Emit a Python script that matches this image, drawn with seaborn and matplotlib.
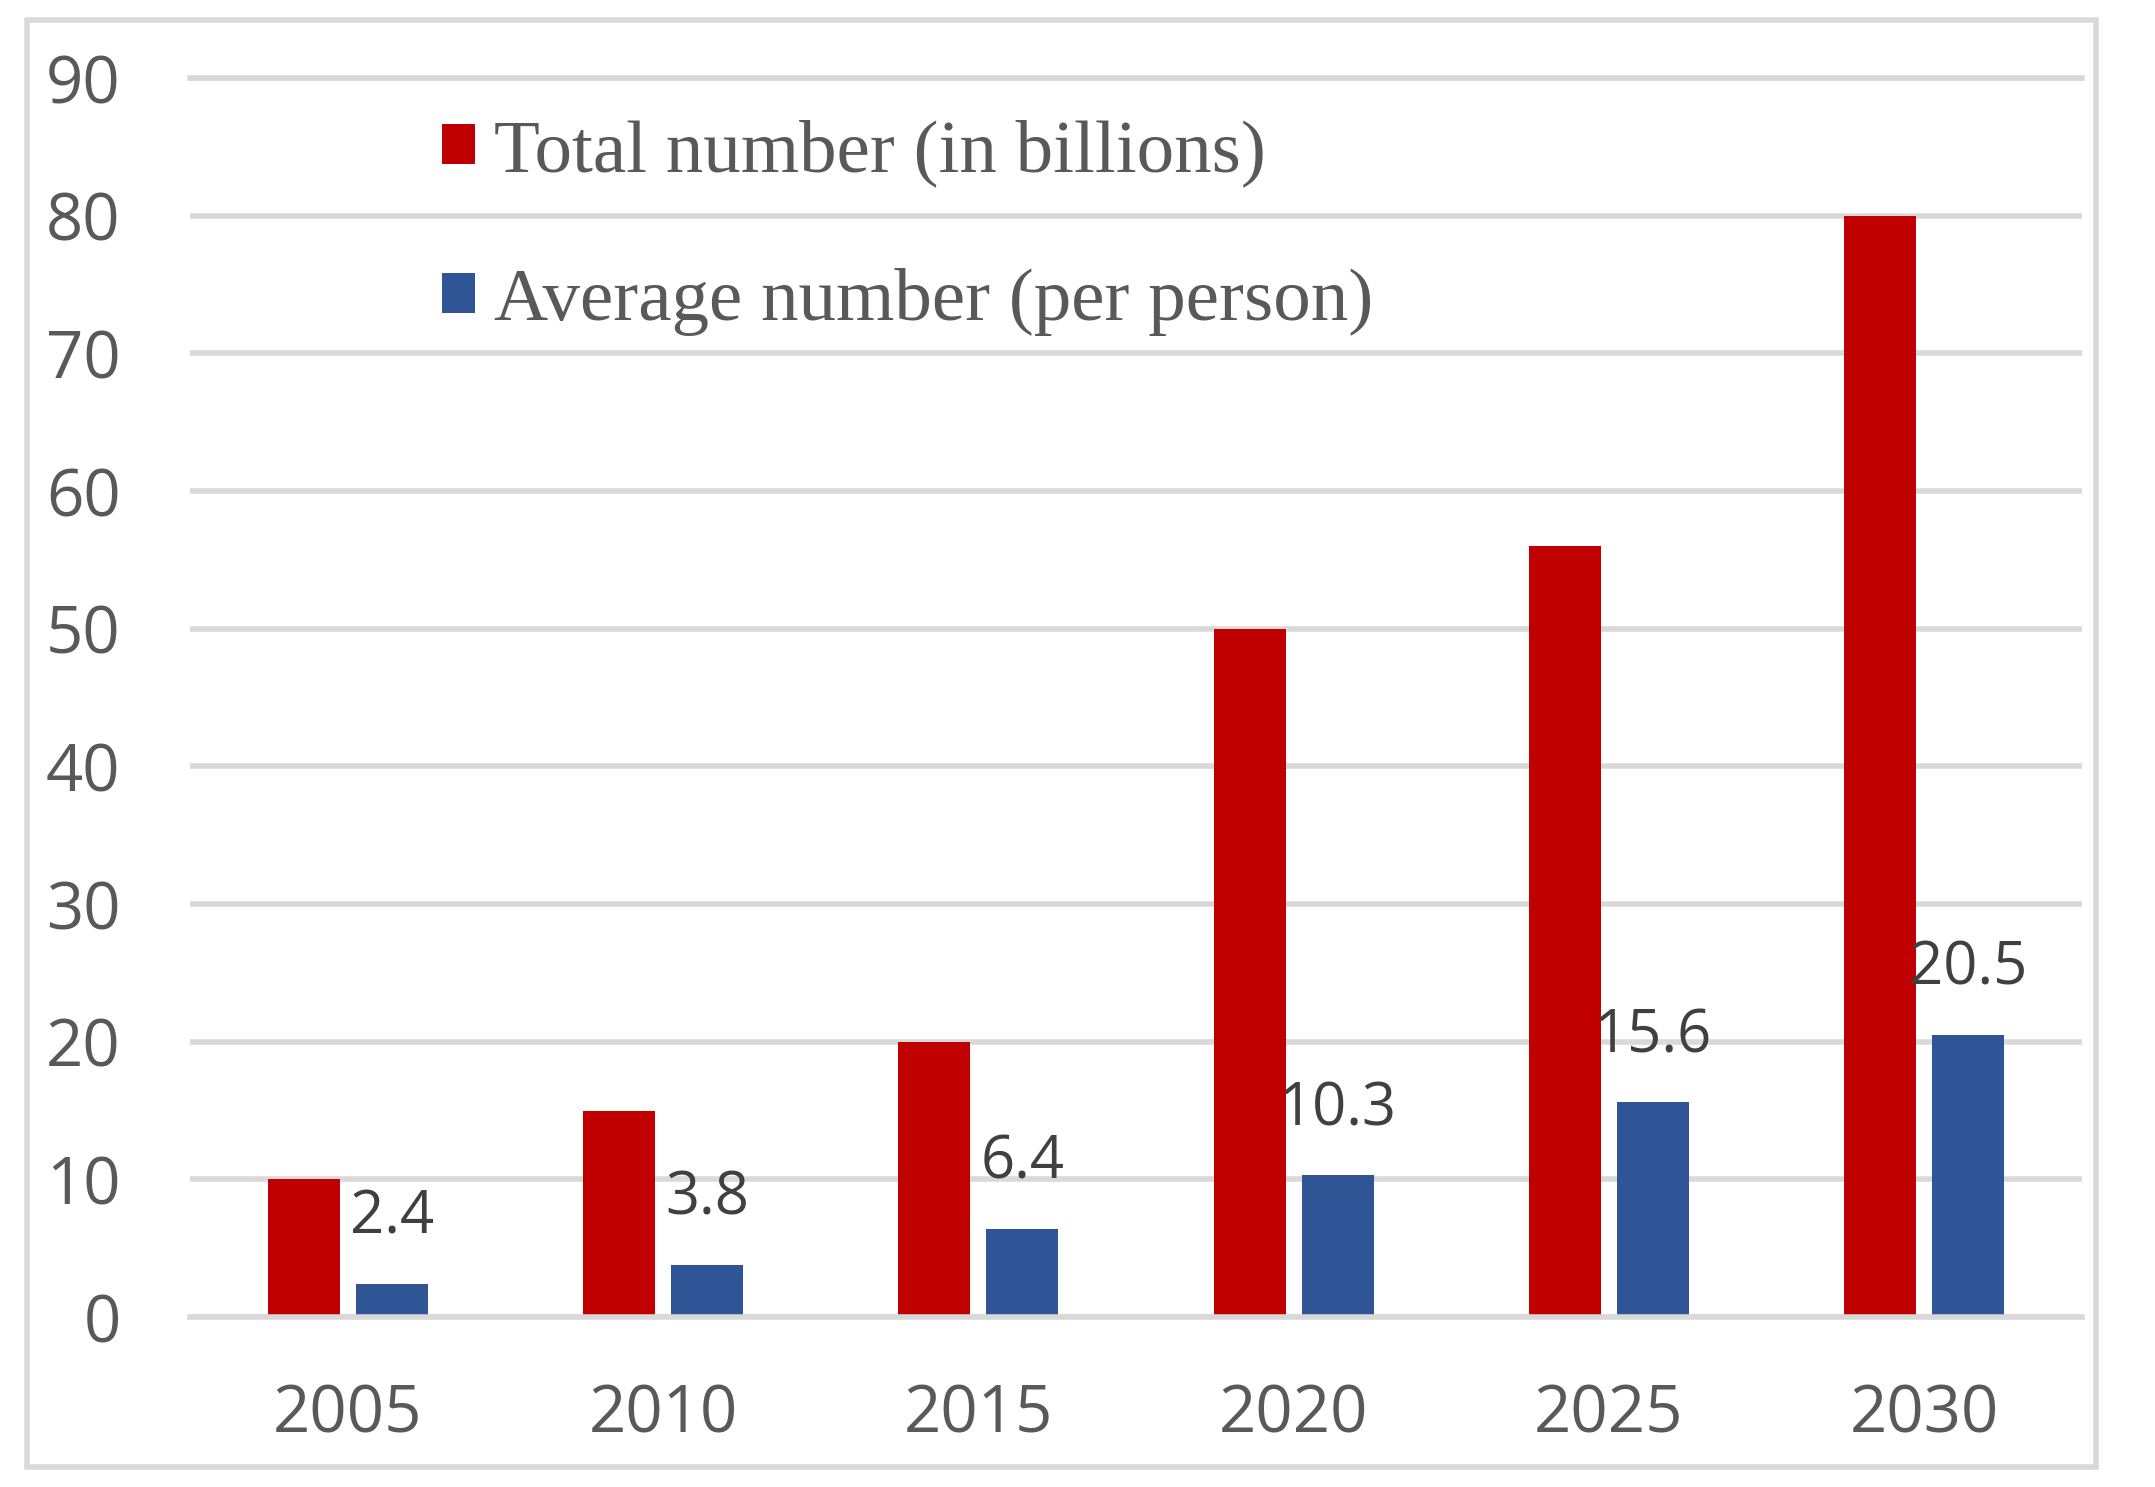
'''
Bar chart: total number (in billions) and average number (per person), 2005-2030
'''
import pandas as pd
import matplotlib.pyplot as plt
import seaborn as sns
from matplotlib.patches import Rectangle

# chart values
years = ['2005', '2010', '2015', '2020', '2025', '2030']
total_number = [10, 15, 20, 50, 56, 80]
average_number = [2.4, 3.8, 6.4, 10.3, 15.6, 20.5]
series_names = ['Total number (in billions)', 'Average number (per person)']
y_ticks = [0, 10, 20, 30, 40, 50, 60, 70, 80, 90]

#long format table for seaborn
df = pd.DataFrame({'Year': years * 2,
                   'Value': total_number + average_number,
                   'Series': [series_names[0]] * len(years) + [series_names[1]] * len(years)})

sns.set_theme(style='white')
plt.rcParams['font.family'] = ['Open Sans', 'DejaVu Sans']

grid_color = '#d9d9d9'

fig = plt.figure(figsize=(21.55, 14.87), dpi=100)
ax = fig.add_axes([0.0882, 0.1143, 0.8779, 0.8332])

sns.barplot(data=df, x='Year', y='Value', hue='Series',
            palette=['#C00000', '#2F5597'], saturation=1,
            width=0.558, gap=0.183, errorbar=None, linewidth=0, ax=ax)

#gridlines behind the bars
ax.set_axisbelow(True)
ax.yaxis.grid(True, color=grid_color, linewidth=4)
ax.xaxis.grid(False)
for side in ['left', 'right']:
    ax.spines[side].set_visible(False)
for side in ['top', 'bottom']:
    ax.spines[side].set_color(grid_color)
    ax.spines[side].set_linewidth(4)

ax.set_ylim(0, 90)
ax.set_yticks(y_ticks)
ax.set_xlabel('')
ax.set_ylabel('')
ax.tick_params(axis='both', length=0, labelsize=47, labelcolor='#595959')
ax.tick_params(axis='y', pad=50)
ax.tick_params(axis='x', pad=47)

#value labels only on the blue bars
ax.bar_label(ax.containers[1], fmt='%.1f', fontsize=43, color='#404040', padding=26)

handles, labels = ax.get_legend_handles_labels()
ax.legend(handles, labels, loc='upper left', bbox_to_anchor=(0.133, 0.967),
          frameon=False, prop={'family': 'Liberation Serif', 'size': 54},
          labelcolor='#595959', handlelength=0.45, handleheight=0.45,
          handletextpad=0.25, labelspacing=1.08, borderaxespad=0, borderpad=0)

#outer frame
fig.patches.append(Rectangle((0.0125, 0.0134), 0.9601, 0.9731, transform=fig.transFigure,
                             fill=False, edgecolor=grid_color, linewidth=4))

plt.savefig('out.png', dpi=100)
plt.close()
